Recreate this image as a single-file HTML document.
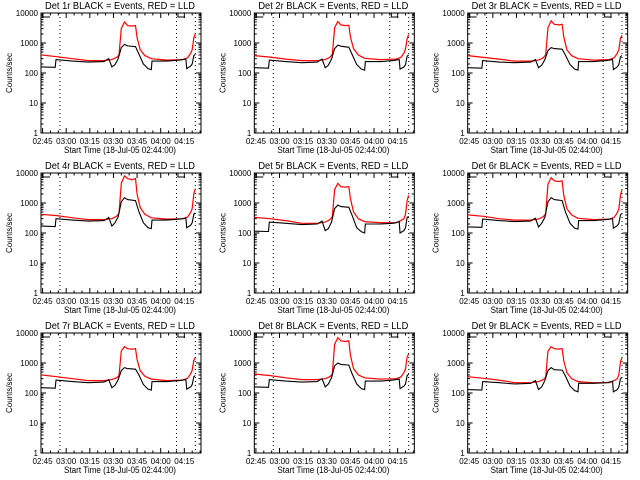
<!DOCTYPE html>
<html><head><meta charset="utf-8"><style>
html,body{margin:0;padding:0;background:#fff;}
svg{display:block;font-family:"Liberation Sans",sans-serif;}
</style></head><body>
<svg id="chart" width="640" height="480" viewBox="0 0 640 480" xmlns="http://www.w3.org/2000/svg"></svg>
<script>
const detNames = ["1r","2r","3r","4r","5r","6r","7r","8r","9r"];
const xTickLabels = ["02:45","03:00","03:15","03:30","03:45","04:00","04:15"];
const yTickValues = [1,10,100,1000,10000];
const yTickLabels = ["1","10","100","1000","10000"];
const dottedTimes = [12,86,98];
const redTimes = [0,10,20,30,40,45,48,49.5,51,53,55,58,60,61,63,66,70,80,90,93,95,96,97,98];
const blackTimes = [0,9,9.5,20,30,40,42,43,45,47,49,51,53,55,60,62,65,68,70,70.5,80,88,90,92,92.5,95,96,97,98];
const red1 = [400,350,300,260,260,280,330,400,3000,5000,3800,3700,3800,1500,600,380,300,270,280,320,450,600,1500,2000];
const red2 = [380,340,290,260,260,280,330,420,3200,5200,4000,3800,3900,1600,650,400,310,280,290,330,460,620,1400,1900];
const red3 = [380,330,290,250,250,270,320,400,3200,5500,4200,4000,4200,1600,600,380,300,270,280,320,450,600,1400,1800];
const red4 = [420,380,320,280,280,300,360,450,4500,8000,6500,6000,6500,2000,700,420,320,290,300,340,480,650,2000,3000];
const red5 = [330,300,260,210,210,230,280,350,2800,4500,3500,3400,3500,1400,500,300,240,220,220,260,300,420,1200,1800];
const red6 = [400,360,300,270,270,290,350,430,4200,7000,5500,5200,5500,1800,650,400,310,280,290,330,470,630,1800,2800];
const red7 = [400,350,300,260,260,280,320,380,2500,3500,3000,2900,3000,1300,550,360,290,260,270,310,430,580,1200,1500];
const red8 = [430,380,320,280,280,300,350,430,4200,7000,5500,5200,5500,1800,650,400,320,290,300,340,480,650,1600,2000];
const red9 = [350,310,270,220,220,240,280,330,2500,3500,3000,2900,3000,1200,480,300,240,220,220,260,300,400,1100,1500];
const black1 = [160,155,280,250,230,240,280,300,160,190,300,700,900,800,750,450,200,140,130,250,250,270,280,290,140,170,200,380,420];
const black2 = [150,145,270,240,220,230,270,290,150,180,290,650,850,780,720,430,190,135,125,240,240,260,270,280,135,160,190,360,400];
const black3 = [150,145,260,230,220,230,260,280,150,180,280,560,700,650,620,400,190,135,125,240,240,260,270,280,130,160,190,350,380];
const black4 = [170,165,300,270,250,260,300,330,170,220,350,1100,1500,1300,1200,550,220,150,140,270,270,290,300,310,150,180,220,420,470];
const black5 = [115,112,230,210,190,200,230,250,120,140,230,650,850,760,720,400,150,110,100,200,200,210,220,240,100,120,150,330,360];
const black6 = [160,155,290,260,240,250,290,310,160,210,330,1100,1500,1300,1200,520,210,145,135,260,260,280,290,300,145,175,210,400,450];
const black7 = [150,145,270,240,220,230,260,280,150,180,280,560,700,650,620,420,190,135,125,240,240,260,270,280,135,160,190,350,380];
const black8 = [160,155,280,250,230,240,280,300,160,200,320,800,1000,900,850,450,200,140,130,250,250,270,280,290,140,170,200,380,420];
const black9 = [130,125,240,220,200,210,240,260,130,160,260,560,700,600,580,380,170,120,110,210,210,220,230,250,110,130,160,300,330];
const redSeries = [red1,red2,red3,red4,red5,red6,red7,red8,red9];
const blackSeries = [black1,black2,black3,black4,black5,black6,black7,black8,black9];

const NS="http://www.w3.org/2000/svg";
const svg=document.getElementById('chart');
function mk(tag,attrs,parent){const e=document.createElementNS(NS,tag);for(const k in attrs)e.setAttribute(k,attrs[k]);parent.appendChild(e);return e;}
const BX0=41,BX1=201,BY0=13,BY1=133;
function xs(t){return BX0+t*1.575;}
function ys(v){return BY1-Math.log10(v)*30;}
function stepPath(times,vals){let d='';for(let i=0;i<times.length;i++){const x=xs(times[i]).toFixed(1),y=ys(vals[i]).toFixed(1);d+=(i?'L':'M')+x+' '+y;}return d;}

for(let p=0;p<9;p++){
  const col=p%3,row=Math.floor(p/3);
  const g=mk('g',{transform:`translate(${(col*213.33).toFixed(2)},${row*160})`},svg);
  
  
  const title=mk('text',{x:45,y:9,'font-size':'10',textLength:150,lengthAdjust:'spacingAndGlyphs',fill:'#000'},g);
  title.textContent='Det '+detNames[p]+' BLACK = Events, RED = LLD';
  
  
  const yl=mk('text',{x:0,y:0,'font-size':'8',transform:'translate(12,73) rotate(-90)','text-anchor':'middle',fill:'#000'},g);
  yl.textContent='Counts/sec';
  
  
  const xl=mk('text',{x:64,y:153,'font-size':'9',textLength:112,lengthAdjust:'spacingAndGlyphs',fill:'#000'},g);
  xl.textContent='Start Time (18-Jul-05 02:44:00)';
  
  
  const box=mk('rect',{x:BX0,y:BY0,width:BX1-BX0,height:BY1-BY0,fill:'none',stroke:'#000','stroke-width':1},g);
  
  
  let td='';
  for(let dcd=0;dcd<yTickValues.length;dcd++){
    const v=yTickValues[dcd],y=ys(v);
    td+=`M${BX0} ${y}h5M${BX1} ${y}h-5`;
    const lab=mk('text',{x:38,y:y+3,'font-size':'8','text-anchor':'end',fill:'#000'},g);
    lab.textContent=yTickLabels[dcd];
    
    
    if(dcd<yTickValues.length-1){for(let m=2;m<10;m++){const yy=ys(v*m);td+=`M${BX0} ${yy}h2.5M${BX1} ${yy}h-2.5`;}}
  }
  for(let i=0;i<xTickLabels.length;i++){
    const x=xs(1+15*i);
    td+=`M${x} ${BY1}v-5M${x} ${BY0}v5`;
    for(let m=1;m<3;m++){const xm=xs(1+15*i+5*m);if(xm<BX1)td+=`M${xm} ${BY1}v-2.5M${xm} ${BY0}v2.5`;}
    const lab=mk('text',{x:x,y:144,'font-size':'8','text-anchor':'middle',fill:'#000'},g);
    lab.textContent=xTickLabels[i];
    
    
  }
  const ticks=mk('path',{d:td,stroke:'#000','stroke-width':1,fill:'none'},g);
  
  
  for(const t of dottedTimes){
    const l=mk('line',{x1:xs(t),x2:xs(t),y1:BY0,y2:BY1,stroke:'#000','stroke-width':1,'stroke-dasharray':'1,3'},g);
    
    
  }
  const att=mk('path',{d:`M43 ${BY0}V17H50M178 ${BY0}V17H185`,stroke:'#000','stroke-width':1,fill:'none'},g);
  
  
  const rl=mk('path',{d:stepPath(redTimes,redSeries[p]),stroke:'#f00','stroke-width':1.2,fill:'none'},g);
  
  
  const bl=mk('path',{d:stepPath(blackTimes,blackSeries[p]),stroke:'#000','stroke-width':1.1,fill:'none'},g);
  
  
}
</script>
</body></html>
